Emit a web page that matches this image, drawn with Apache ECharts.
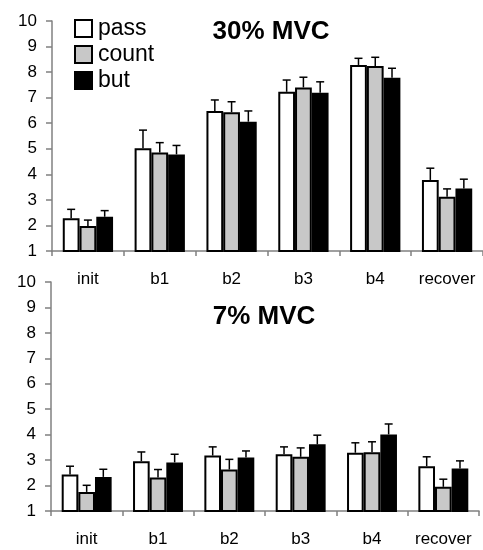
<!DOCTYPE html>
<html>
<head>
<meta charset="utf-8">
<script src="https://cdn.jsdelivr.net/npm/echarts@6/dist/echarts.min.js"></script>
<style>
  html, body { margin: 0; padding: 0; background: #fff; }
  #chart { width: 483px; height: 550px; }
</style>
</head>
<body>
<div id="chart"></div>
<script>
var categories = ['init', 'b1', 'b2', 'b3', 'b4', 'recover'];
var seriesNames = ['pass', 'count', 'but'];
var yTicks = [1, 10, 1]; // min, max, interval

// 30% MVC panel: means and upper error ends
var pass30 = [2.28, 5.02, 6.48, 7.23, 8.28, 3.78];
var count30 = [1.98, 4.85, 6.43, 7.40, 8.24, 3.12];
var but30 = [2.34, 4.78, 6.06, 7.19, 7.78, 3.45];
var passErr30 = [2.63, 5.73, 6.91, 7.69, 8.54, 4.24];
var countErr30 = [2.21, 5.24, 6.84, 7.80, 8.58, 3.43];
var butErr30 = [2.58, 5.13, 6.48, 7.62, 8.15, 3.81];

// 7% MVC panel
var pass7 = [2.43, 2.96, 3.18, 3.23, 3.29, 2.76];
var count7 = [1.75, 2.32, 2.63, 3.13, 3.31, 1.95];
var but7 = [2.34, 2.91, 3.10, 3.62, 4.01, 2.67];
var passErr7 = [2.76, 3.32, 3.52, 3.52, 3.68, 3.13];
var countErr7 = [2.01, 2.63, 3.03, 3.48, 3.72, 2.25];
var butErr7 = [2.64, 3.23, 3.36, 3.98, 4.42, 2.97];

var fills = ['#ffffff', '#c8c8c8', '#000000'];
var FONT = 'Liberation Sans, Arial, sans-serif';

var myChart = echarts.init(document.getElementById('chart'));

function xAxisFor(gi) {
	return {
		type: 'category',
		gridIndex: gi,
		data: categories,
		axisLine: { lineStyle: { color: '#808080', width: 1.5 } },
		axisTick: { show: true, length: 5, lineStyle: { color: '#808080', width: 1.5 } },
		axisLabel: { interval: 0, color: '#000', fontSize: 17, fontFamily: FONT, margin: 20 }
	};
}

function yAxisFor(gi) {
	return {
		type: 'value',
		gridIndex: gi,
		min: yTicks[0],
		max: yTicks[1],
		interval: yTicks[2],
		axisLine: { show: true, lineStyle: { color: '#808080', width: 1.5 } },
		axisTick: { show: true, length: 6, lineStyle: { color: '#808080', width: 1.5 } },
		axisLabel: { color: '#000', fontSize: 17, fontFamily: FONT, margin: 15 },
		splitLine: { show: false }
	};
}

function barSeries(name, data, idx, gi) {
	return {
		name: name,
		type: 'bar',
		xAxisIndex: gi,
		yAxisIndex: gi,
		data: data,
		barGap: '0%',
		barCategoryGap: '30%',
		clip: true,
		itemStyle: { color: fills[idx], borderColor: '#000', borderWidth: 2 }
	};
}

function errSeries(means, tops, idx, gi) {
	var data = means.map(function (m, i) { return [i, m, tops[i]]; });
	return {
		type: 'custom',
		xAxisIndex: gi,
		yAxisIndex: gi,
		silent: true,
		z: 1,
		data: data,
		renderItem: function (params, api) {
			var bw = api.size([1, 0])[0];
			var barW = bw * 0.7 / 3;
			var base = api.coord([api.value(0), api.value(1)]);
			var top = api.coord([api.value(0), api.value(2)]);
			var x = base[0] + (idx - 1) * barW;
			var cap = 4;
			var st = { stroke: '#000', lineWidth: 1.5 };
			return {
				type: 'group',
				children: [
					{ type: 'line', shape: { x1: x, y1: base[1], x2: x, y2: top[1] }, style: st },
					{ type: 'line', shape: { x1: x - cap, y1: top[1], x2: x + cap, y2: top[1] }, style: st }
				]
			};
		}
	};
}

var option = {
	backgroundColor: '#fff',
	animation: false,
	title: [
		{ text: '30% MVC', left: 266, top: 14, textAlign: 'center',
		  textStyle: { fontSize: 26, fontWeight: 'bold', fontFamily: FONT, color: '#000' } },
		{ text: '7% MVC', left: 259, top: 299, textAlign: 'center',
		  textStyle: { fontSize: 26, fontWeight: 'bold', fontFamily: FONT, color: '#000' } }
	],
	legend: {
		data: seriesNames,
		orient: 'vertical',
		left: 69,
		top: 12,
		itemWidth: 17,
		itemHeight: 17,
		itemGap: 3,
		icon: 'rect',
		textStyle: { fontSize: 23, fontFamily: FONT, color: '#000', padding: [0, 0, 0, 1] }
	},
	grid: [
		{ left: 52, right: 0, top: 21, height: 230 },
		{ left: 51, right: 4, top: 282, height: 229 }
	],
	xAxis: [xAxisFor(0), xAxisFor(1)],
	yAxis: [yAxisFor(0), yAxisFor(1)],
	series: [
		barSeries('pass', pass30, 0, 0),
		barSeries('count', count30, 1, 0),
		barSeries('but', but30, 2, 0),
		barSeries('pass', pass7, 0, 1),
		barSeries('count', count7, 1, 1),
		barSeries('but', but7, 2, 1),
		errSeries(pass30, passErr30, 0, 0),
		errSeries(count30, countErr30, 1, 0),
		errSeries(but30, butErr30, 2, 0),
		errSeries(pass7, passErr7, 0, 1),
		errSeries(count7, countErr7, 1, 1),
		errSeries(but7, butErr7, 2, 1)
	]
};

myChart.setOption(option);
</script>
</body>
</html>
